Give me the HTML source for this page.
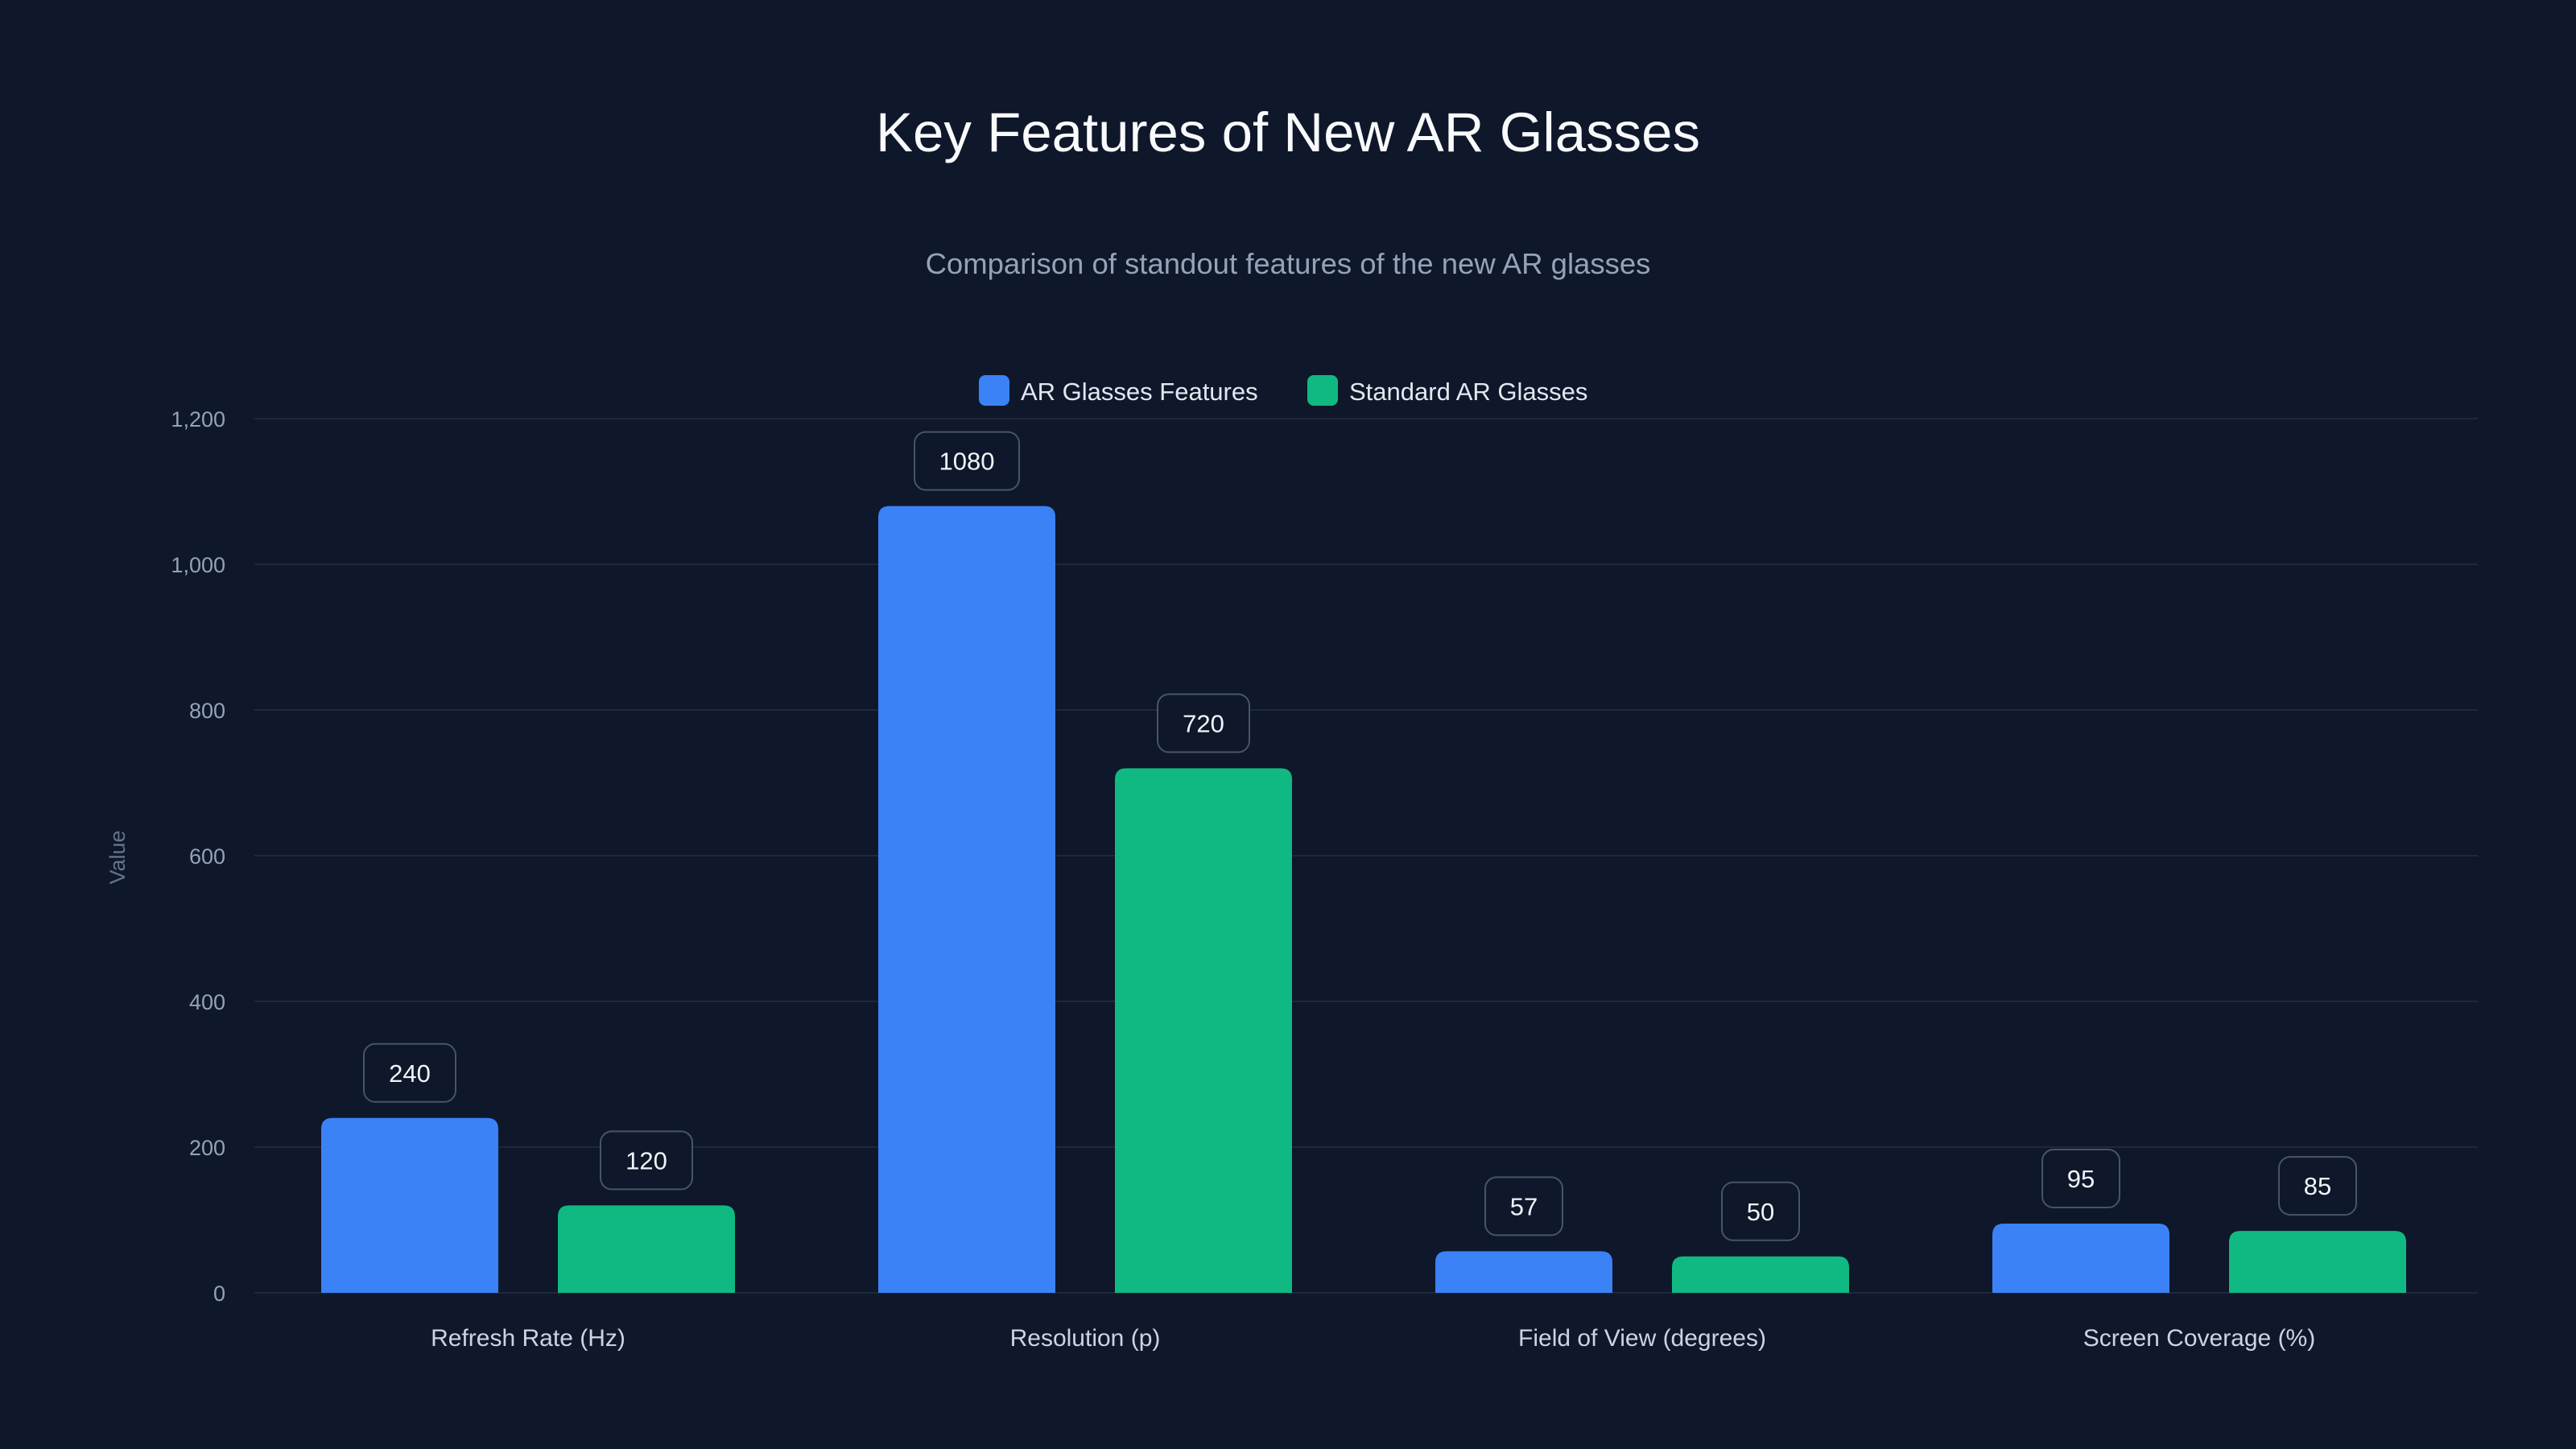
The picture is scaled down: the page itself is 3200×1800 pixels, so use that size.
<!DOCTYPE html>
<html><head><meta charset="utf-8"><style>
html,body{margin:0;padding:0;background:#0f172a;}
svg{display:block;font-family:"Liberation Sans",sans-serif;}
</style></head><body>
<svg id="chart" width="3200" height="1800" viewBox="0 0 3200 1800">
<rect width="3200" height="1800" fill="#0f172a"/>
<text x="1600" y="188" text-anchor="middle" font-size="69" fill="#f8fafc">Key Features of New AR Glasses</text>
<text x="1600" y="340" text-anchor="middle" font-size="36.5" fill="#94a3b8">Comparison of standout features of the new AR glasses</text>
<g>
<g><rect x="1216" y="466" width="38" height="38" rx="8" fill="#3b82f6"/><text x="1268" y="497" font-size="31" fill="#e2e8f0">AR Glasses Features</text></g>
<g><rect x="1624" y="466" width="38" height="38" rx="8" fill="#10b981"/><text x="1676" y="497" font-size="31" fill="#e2e8f0">Standard AR Glasses</text></g>
</g>
<text transform="translate(155,1065) rotate(-90)" text-anchor="middle" font-size="27" fill="#64748b">Value</text>
<g id="grid"></g><g id="bars"></g><g id="labels"></g>
</svg>
<script>
const categories=["Refresh Rate (Hz)","Resolution (p)","Field of View (degrees)","Screen Coverage (%)"];
const seriesA=[240,1080,57,95];
const seriesB=[120,720,50,85];
const ticks=[0,200,400,600,800,1000,1200];
const tickLabels=["0","200","400","600","800","1,000","1,200"];
const NS="http://www.w3.org/2000/svg";
const X0=316,X1=3078,Y0=1606,Y1=520,YMAX=1200;
const y=v=>Y0-(v/YMAX)*(Y0-Y1);
const band=692;
const xc=i=>310+band*(i+0.5);
function mk(t,a,p){const e=document.createElementNS(NS,t);for(const k in a)e.setAttribute(k,a[k]);p.appendChild(e);return e;}
const grid=document.getElementById('grid'),bars=document.getElementById('bars'),labels=document.getElementById('labels');
ticks.forEach((t,i)=>{
 const l=mk('line',{x1:X0,x2:X1,y1:y(t),y2:y(t),stroke:'#1e293b','stroke-width':2},grid);
 
 
 const tx=mk('text',{x:280,y:y(t)+10,'text-anchor':'end','font-size':27,fill:'#94a3b8'},grid);
 tx.textContent=tickLabels[i];
 
 
});
const BW=220,OFF=147,R=14;
function bar(cx,v,color,name){
 const x=cx-BW/2,top=y(v),h=Y0-top,r=Math.min(R,h);
 const p=mk('path',{d:`M${x},${Y0}V${top+r}Q${x},${top} ${x+r},${top}H${x+BW-r}Q${x+BW},${top} ${x+BW},${top+r}V${Y0}Z`,fill:color},bars);
 
 
 const g=mk('g',{},labels);
 
 
 const s=String(v),w=s.length>3?130:(s.length>2?114:96);
 mk('rect',{x:cx-w/2,y:top-92,width:w,height:72,rx:14,fill:'#0f172a',stroke:'#475569','stroke-width':2},g);
 const t=mk('text',{x:cx,y:top-45,'text-anchor':'middle','font-size':31,fill:'#f1f5f9'},g);
 t.textContent=s;
}
categories.forEach((c,i)=>{
 bar(xc(i)-OFF,seriesA[i],'#3b82f6','bar-ar-glasses-'+i);
 bar(xc(i)+OFF,seriesB[i],'#10b981','bar-standard-'+i);
 const t=mk('text',{x:xc(i),y:1672,'text-anchor':'middle','font-size':30,fill:'#cbd5e1'},grid);
 t.textContent=c;
 
 
});
</script>
</body></html>
